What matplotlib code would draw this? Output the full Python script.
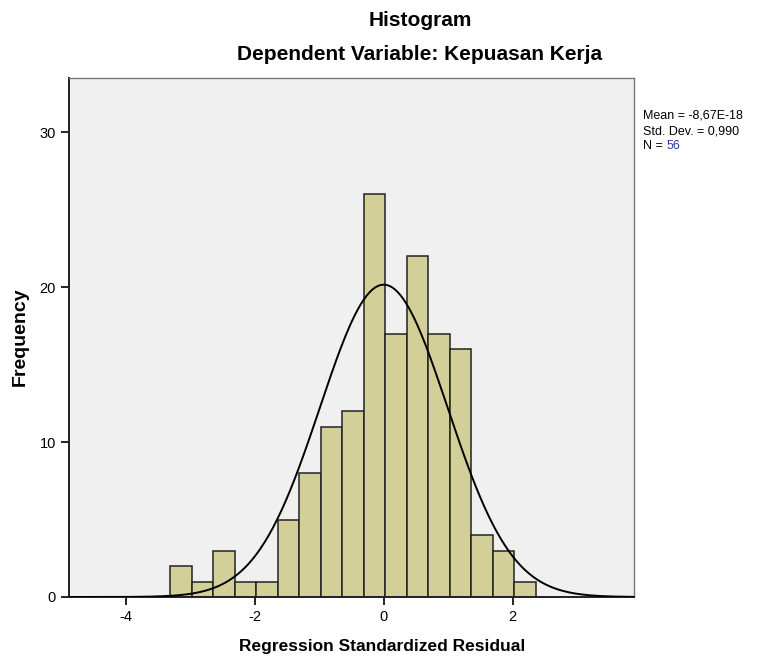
import matplotlib
matplotlib.use('Agg')
import matplotlib.pyplot as plt
import numpy as np

# histogram data
bin_start = -3.31
bin_width = 0.3335
counts = [2, 1, 3, 1, 1, 5, 8, 11, 12, 26, 17, 22, 17, 16, 4, 3, 1]
mean = 0.0
std_dev = 0.990
stats_lines = ["Mean = -8,67E-18", "Std. Dev. = 0,990"]
n_label = "56"
x_ticks = [-4, -2, 0, 2]
y_ticks = [0, 10, 20, 30]

plt.rcParams['font.family'] = ['Liberation Sans', 'DejaVu Sans']
plt.rcParams['axes.unicode_minus'] = False

fig = plt.figure(figsize=(7.65, 6.64), dpi=100)
ax = fig.add_axes([69 / 765, 67 / 664, 565 / 765, 519 / 664])
ax.set_facecolor('#f0f0f0')

edges = bin_start + bin_width * np.arange(len(counts) + 1)
ax.bar(edges[:-1], counts, width=bin_width, align='edge', color='#d3cf98',
       edgecolor='#222222', linewidth=1.1, zorder=2)

xs = np.linspace(-4.88, 3.88, 400)
scale = sum(counts) * bin_width
curve = scale * np.exp(-0.5 * ((xs - mean) / std_dev) ** 2) / (std_dev * np.sqrt(2 * np.pi))
ax.plot(xs, curve, color='black', linewidth=1.4, zorder=3)

ax.set_xlim(-4.88, 3.88)
ax.set_ylim(0, 33.5)
ax.set_xticks(x_ticks)
ax.set_yticks(y_ticks)
ax.tick_params(direction='out', length=6, width=1.2, labelsize=10.5)
for side in ['left', 'bottom']:
    ax.spines[side].set_linewidth(1.4)
    ax.spines[side].set_color('#222222')
for side in ['top', 'right']:
    ax.spines[side].set_linewidth(1.0)
    ax.spines[side].set_color('#777777')

fig.text(20 / 765, 1 - 337 / 664, "Frequency", ha='center', va='center',
         rotation=90, fontsize=14, fontweight='bold')
fig.text(382 / 765, 1 - 647 / 664, "Regression Standardized Residual", ha='center',
         va='center', fontsize=12.5, fontweight='bold')

fig.text(420 / 765, 1 - 21 / 664, "Histogram", ha='center', va='center',
         fontsize=15, fontweight='bold')
fig.text(420 / 765, 1 - 55 / 664, "Dependent Variable: Kepuasan Kerja", ha='center',
         va='center', fontsize=15, fontweight='bold')

for i, line in enumerate(stats_lines):
    fig.text(643 / 765, 1 - (116 + 15 * i) / 664, line, ha='left', va='center',
             fontsize=9)
t = fig.text(643 / 765, 1 - 146 / 664, "N = ", ha='left', va='center', fontsize=9)
fig.canvas.draw()
bb = t.get_window_extent()
fig.text(bb.x1 / 765, 1 - 146 / 664, n_label, ha='left', va='center', fontsize=9,
         color='#1f3f9f')

fig.savefig('out.png', dpi=100)
